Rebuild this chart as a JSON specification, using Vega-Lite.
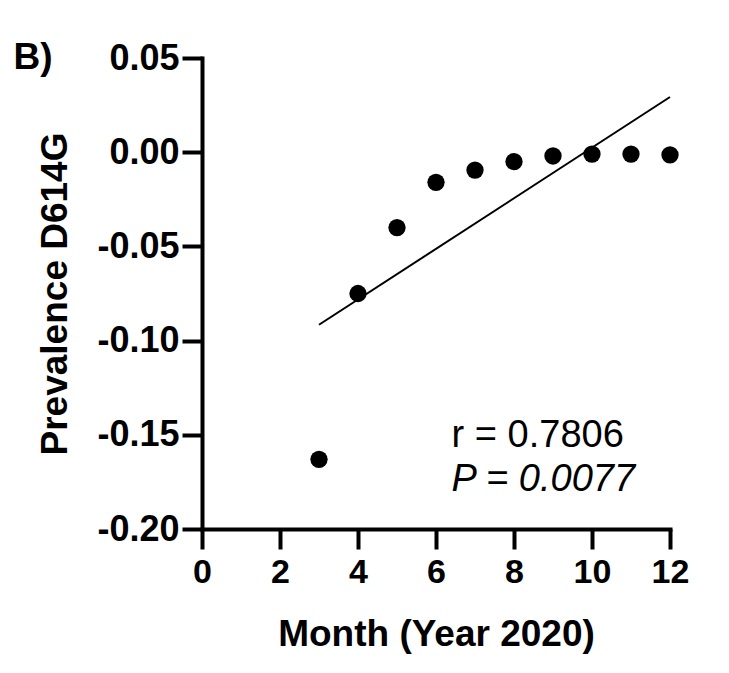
{
  "$schema": "https://vega.github.io/schema/vega-lite/v6.json",
  "autosize": {"type": "none"},
  "padding": {"left": 202, "top": 58, "right": 59, "bottom": 144},
  "width": 468,
  "height": 471,
  "background": "white",
  "config": {
    "view": {"stroke": null},
    "font": "Liberation Sans",
    "axis": {
      "domainColor": "black",
      "domainWidth": 4,
      "domainCap": "square",
      "tickColor": "black",
      "tickWidth": 4,
      "grid": false,
      "labelFont": "Liberation Sans",
      "labelFontWeight": "bold",
      "labelFontSize": 34,
      "labelColor": "black",
      "titleFont": "Liberation Sans",
      "titleFontWeight": "bold",
      "titleFontSize": 37,
      "titleColor": "black"
    }
  },
  "layer": [
    {
      "data": {"values": [
        {"month": 3, "prevalence": -0.163},
        {"month": 4, "prevalence": -0.075},
        {"month": 5, "prevalence": -0.040},
        {"month": 6, "prevalence": -0.016},
        {"month": 7, "prevalence": -0.0095},
        {"month": 8, "prevalence": -0.005},
        {"month": 9, "prevalence": -0.002},
        {"month": 10, "prevalence": -0.001},
        {"month": 11, "prevalence": -0.001},
        {"month": 12, "prevalence": -0.0014}
      ]},
      "mark": {"type": "circle", "size": 300, "color": "black", "opacity": 1},
      "encoding": {
        "x": {
          "field": "month", "type": "quantitative",
          "scale": {"domain": [0, 12], "nice": false, "zero": false},
          "axis": {
            "title": "Month (Year 2020)",
            "values": [0, 1, 2, 3, 4, 5, 6, 7, 8, 9, 10, 11, 12],
            "labelExpr": "datum.value % 2 === 0 ? datum.label : ''",
            "tickSize": {"condition": {"test": "datum.value % 2 === 0", "value": 20}, "value": 11},
            "labelPadding": 6,
            "titlePadding": 27,
            "labelFlush": false,
            "labelOverlap": false
          }
        },
        "y": {
          "field": "prevalence", "type": "quantitative",
          "scale": {"domain": [-0.2, 0.05], "nice": false, "zero": false},
          "axis": {
            "title": "Prevalence D614G",
            "values": [-0.2, -0.15, -0.1, -0.05, 0, 0.05],
            "labelExpr": "replace(format(datum.value, '.2f'), '\u2212', '-')",
            "labelFontSize": 36,
            "tickSize": 20,
            "labelPadding": 3,
            "titlePadding": 22,
            "labelFlush": false,
            "labelOverlap": false
          }
        }
      }
    },
    {
      "data": {"values": [
        {"month": 3, "fit": -0.0916},
        {"month": 12, "fit": 0.0293}
      ]},
      "mark": {"type": "line", "color": "black", "strokeWidth": 2},
      "encoding": {
        "x": {"field": "month", "type": "quantitative"},
        "y": {"field": "fit", "type": "quantitative"}
      }
    },
    {
      "data": {"values": [{"label": "r = 0.7806"}]},
      "mark": {"type": "text", "align": "left", "baseline": "alphabetic", "fontSize": 38, "font": "Liberation Sans", "color": "black"},
      "encoding": {
        "x": {"datum": 6.4},
        "y": {"datum": -0.1563},
        "text": {"field": "label"}
      }
    },
    {
      "data": {"values": [{"label": "P = 0.0077"}]},
      "mark": {"type": "text", "align": "left", "baseline": "alphabetic", "fontSize": 38, "fontStyle": "italic", "font": "Liberation Sans", "color": "black"},
      "encoding": {
        "x": {"datum": 6.4},
        "y": {"datum": -0.180},
        "text": {"field": "label"}
      }
    },
    {
      "data": {"values": [{"label": "B)"}]},
      "mark": {"type": "text", "align": "center", "baseline": "middle", "fontSize": 37, "fontWeight": "bold", "font": "Liberation Sans", "color": "black", "clip": false},
      "encoding": {
        "x": {"datum": -4.33},
        "y": {"datum": 0.05},
        "text": {"field": "label"}
      }
    }
  ]
}
